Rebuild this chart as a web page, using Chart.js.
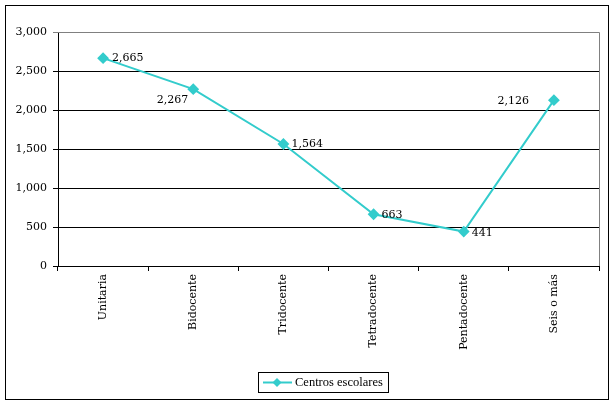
<!DOCTYPE html>
<html lang="es">
<head>
  <meta charset="UTF-8" />
  <title>Centros escolares</title>
  <script src="https://cdn.jsdelivr.net/npm/chart.js"></script>
  <style>
    html, body { margin: 0; padding: 0; background: #fff; }
    canvas { display: block; }
  </style>
</head>
<body>
  <canvas id="chart" width="614" height="404"></canvas>

  <script>
    const categories = ["Unitaria", "Bidocente", "Tridocente", "Tetradocente", "Pentadocente", "Seis o más"];
    const centros = [2665, 2267, 1564, 663, 441, 2126];
    const seriesName = "Centros escolares";
    const yTicks = [0, 500, 1000, 1500, 2000, 2500, 3000];

    // where each value label sits relative to its point (as in the original)
    const labelOffsets = [[9, 0, "left"], [-5, 11, "right"], [8, 0, "left"], [8, 1, "left"], [8, 2, "left"], [-25, 1, "right"]];

    const TEAL = "#33CCCC";
    const FONT = "'DejaVu Serif', 'Liberation Serif', serif";
    const fmt = v => v.toLocaleString("en-US");

    const decorations = {
      id: "decorations",
      afterDatasetsDraw(chart) {
        const { ctx, chartArea: a } = chart;
        const meta = chart.getDatasetMeta(0);
        ctx.save();

        // plot area border (top + right, grey)
        ctx.strokeStyle = "#808080";
        ctx.lineWidth = 1;
        ctx.beginPath();
        ctx.moveTo(a.left, Math.round(a.top) + 0.5);
        ctx.lineTo(Math.round(a.right) + 0.5, Math.round(a.top) + 0.5);
        ctx.lineTo(Math.round(a.right) + 0.5, a.bottom);
        ctx.stroke();

        // value labels
        ctx.fillStyle = "#000";
        ctx.font = "11px " + FONT;
        ctx.textBaseline = "middle";
        meta.data.forEach((pt, i) => {
          const [dx, dy, al] = labelOffsets[i];
          ctx.textAlign = al;
          ctx.fillText(fmt(centros[i]), pt.x + dx, pt.y + dy);
        });

        // legend
        const lx = 258, ly = 372, lw = 130, lh = 20;
        ctx.strokeStyle = "#000";
        ctx.strokeRect(lx + 0.5, ly + 0.5, lw, lh);
        const cy = ly + lh / 2 + 0.5;
        ctx.strokeStyle = TEAL;
        ctx.lineWidth = 2;
        ctx.beginPath();
        ctx.moveTo(lx + 5, cy);
        ctx.lineTo(lx + 34, cy);
        ctx.stroke();
        ctx.fillStyle = TEAL;
        ctx.beginPath();
        ctx.moveTo(lx + 19, cy - 4.5);
        ctx.lineTo(lx + 23.5, cy);
        ctx.lineTo(lx + 19, cy + 4.5);
        ctx.lineTo(lx + 14.5, cy);
        ctx.closePath();
        ctx.fill();
        ctx.fillStyle = "#000";
        ctx.textAlign = "left";
        ctx.font = "12.5px 'Liberation Serif', serif";
        ctx.fillText(seriesName, lx + 37, cy);

        // outer frame
        ctx.strokeStyle = "#000";
        ctx.lineWidth = 1;
        ctx.strokeRect(5.5, 5.5, 603, 394);
        ctx.restore();
      }
    };

    new Chart(document.getElementById("chart"), {
      type: "line",
      data: {
        labels: categories,
        datasets: [{
          label: seriesName,
          data: centros,
          borderColor: TEAL,
          backgroundColor: TEAL,
          borderWidth: 2,
          pointStyle: "rectRot",
          pointRadius: 4.5,
          pointHoverRadius: 4.5,
          tension: 0
        }]
      },
      options: {
        responsive: false,
        animation: false,
        events: [],
        layout: { padding: { left: 0, right: 15, top: 32, bottom: 50 } },
        plugins: {
          legend: { display: false },
          tooltip: { enabled: false }
        },
        scales: {
          x: {
            offset: true,
            afterFit: s => { s.height = 88; },
            grid: { offset: true, drawOnChartArea: false, drawTicks: true, tickLength: 5, color: "#000", lineWidth: 1 },
            border: { color: "#000" },
            ticks: {
              minRotation: 90, maxRotation: 90, autoSkip: false,
              padding: 3,
              color: "#000",
              font: { family: FONT, size: 11 }
            }
          },
          y: {
            min: 0, max: 3000,
            afterFit: s => { s.width = 58; },
            afterBuildTicks: s => { s.ticks = yTicks.map(v => ({ value: v })); },
            grid: {
              color: c => (c.tick && c.tick.value === 3000 ? "#808080" : "#000"),
              tickLength: 5, lineWidth: 1
            },
            border: { color: "#000" },
            ticks: {
              padding: 6,
              color: "#000",
              font: { family: FONT, size: 11 },
              callback: v => fmt(v)
            }
          }
        }
      },
      plugins: [decorations]
    });
  </script>
</body>
</html>
